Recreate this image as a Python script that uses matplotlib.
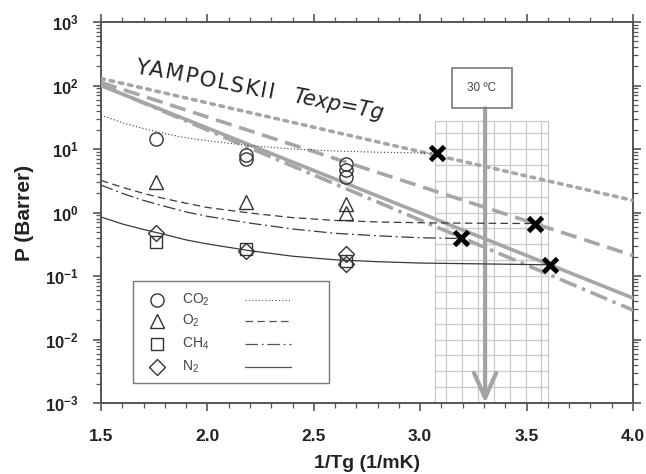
import numpy as np
import matplotlib
matplotlib.use("Agg")
import matplotlib.pyplot as plt
from matplotlib.ticker import MultipleLocator, LogLocator, FixedLocator, FuncFormatter
from matplotlib.patches import Rectangle
from matplotlib.transforms import offset_copy

plt.rcParams['font.family'] = ['Liberation Sans', 'DejaVu Sans']
plt.rcParams['mathtext.fontset'] = 'custom'
plt.rcParams['mathtext.rm'] = 'Liberation Sans'
plt.rcParams['mathtext.bf'] = 'Liberation Sans:bold'
plt.rcParams['mathtext.it'] = 'Liberation Sans:italic'

# ---------------- data ----------------
co2_x = [1.76, 2.18, 2.18, 2.65, 2.65, 2.65]
co2_y = [14.5, 8.0, 7.0, 5.8, 4.6, 3.6]
o2_x = [1.76, 2.18, 2.65, 2.65]
o2_y = [3.0, 1.45, 1.38, 1.0]
ch4_x = [1.76, 2.18, 2.65]
ch4_y = [0.34, 0.27, 0.17]
n2_x = [1.76, 2.18, 2.65, 2.65]
n2_y = [0.48, 0.25, 0.225, 0.155]

# values at 30 C (crosses)
cross_x = [3.08, 3.54, 3.19, 3.61]
cross_y = [8.5, 0.67, 0.39, 0.15]

# Yampolskii Texp = Tg correlations
yamp_x = [1.5, 4.0]
yamp_co2 = [129, 1.55]
yamp_o2 = [112, 0.21]
yamp_ch4 = [102, 0.029]
yamp_n2 = [100, 0.045]

# model curves
fit_co2_x = [1.5, 1.6, 1.7, 1.8, 1.9, 2.0, 2.2, 2.4, 2.6, 2.8, 3.08]
fit_co2_y = [34, 26, 21, 17.5, 15, 13.5, 11.3, 10.0, 9.3, 8.9, 8.6]
fit_o2_x = [1.5, 1.6, 1.7, 1.8, 1.9, 2.0, 2.2, 2.4, 2.6, 2.8, 3.0, 3.2, 3.54]
fit_o2_y = [3.2, 2.5, 2.0, 1.65, 1.4, 1.2, 0.98, 0.83, 0.75, 0.71, 0.69, 0.68, 0.67]
fit_ch4_x = [1.5, 1.6, 1.7, 1.8, 1.9, 2.0, 2.2, 2.4, 2.6, 2.8, 3.0, 3.19]
fit_ch4_y = [2.7, 2.0, 1.55, 1.25, 1.02, 0.87, 0.68, 0.55, 0.47, 0.43, 0.40, 0.39]
fit_n2_x = [1.5, 1.6, 1.7, 1.8, 1.9, 2.0, 2.2, 2.4, 2.6, 2.8, 3.0, 3.3, 3.61]
fit_n2_y = [0.85, 0.66, 0.54, 0.45, 0.37, 0.32, 0.25, 0.205, 0.18, 0.168, 0.16, 0.155, 0.15]

x_ticks = [1.5, 2.0, 2.5, 3.0, 3.5, 4.0]
x_tick_labels = ['1.5', '2.0', '2.5', '3.0', '3.5', '4.0']
y_exponents = [-3, -2, -1, 0, 1, 2, 3]

gases = ['CO$_2$', 'O$_2$', 'CH$_4$', 'N$_2$']

# ---------------- figure ----------------
fig = plt.figure(figsize=(6.46, 4.74), dpi=100)
ax = fig.add_axes([101/646, 1-403/474, 532/646, 381/474])
ax.set_yscale('log')
ax.set_xlim(1.5, 4.0)
ax.set_ylim(1e-3, 1e3)

gray = '#a6a6a6'
dark = '#333333'
thin = '#3a3a3a'

# grid patch (30 C region)
gx0, gx1, gtop = 3.07, 3.60, 28
grid_c = '#c8c8c8'
for gx in [gx0, 3.12, 3.195, 3.27, 3.345, 3.42, 3.495, 3.57, gx1]:
    ax.plot([gx, gx], [1e-3, gtop], color=grid_c, lw=0.9, zorder=1)
for k in range(1, 18):
    gy = 10 ** (-3 + 0.25 * k)
    ax.plot([gx0, gx1], [gy, gy], color=grid_c, lw=0.9, zorder=1)
ax.plot([gx0, gx1], [gtop, gtop], color=grid_c, lw=0.9, zorder=1)

# Yampolskii lines
ax.plot(yamp_x, yamp_co2, color=gray, lw=2.6, ls=(0, (1, 1.6)), dash_capstyle='round', zorder=3)
ax.plot(yamp_x, yamp_o2, color=gray, lw=2.6, ls=(0, (4.5, 2.2)), zorder=3)
ax.plot(yamp_x, yamp_ch4, color=gray, lw=2.6, ls=(0, (5, 1.6, 1, 1.6)), zorder=3)
ax.plot(yamp_x, yamp_n2, color=gray, lw=2.6, ls='-', zorder=3)

# model curves
ax.plot(fit_co2_x, fit_co2_y, color=thin, lw=0.8, ls=(0, (1, 2)), zorder=4)
ax.plot(fit_o2_x, fit_o2_y, color=thin, lw=0.9, ls=(0, (6, 3.5)), zorder=4)
ax.plot(fit_ch4_x, fit_ch4_y, color=thin, lw=0.9, ls=(0, (10, 3, 1.5, 3)), zorder=4)
ax.plot(fit_n2_x, fit_n2_y, color=thin, lw=0.9, ls='-', zorder=4)

# data points
mk = dict(ls='none', mfc='none', mec=dark, mew=1.0, zorder=5)
ax.plot(co2_x, co2_y, marker='o', ms=9.5, **mk)
ax.plot(o2_x, o2_y, marker='^', ms=9.5, **mk)
ax.plot(ch4_x, ch4_y, marker='s', ms=9, **mk)
ax.plot(n2_x, n2_y, marker='D', ms=8.5, **mk)

ax.plot(cross_x, cross_y, ls='none', marker='x', ms=10, mew=3.5, color='black', zorder=6)

# arrow and box for 30 C
ax.annotate('', xy=(3.305, 1e-3), xytext=(3.305, 43.6),
            arrowprops=dict(arrowstyle='->,head_length=1.8,head_width=0.8',
                            color='#a3a3a3', lw=3, shrinkA=0, shrinkB=0), zorder=2)
ax.add_patch(Rectangle((3.15, 43.6), 0.28, 186 - 43.6, fill=False, ec='#777777', lw=1.2, zorder=6))
ax.text(3.29, 90, '30 ºC', ha='center', va='center', fontsize=8.5, color='#444444', zorder=7)

# Yampolskii label (letter-spaced, placed character by character)
angle = -11.0
renderer = fig.canvas.get_renderer()
def spaced_text(x0, y0, s, extra_px, **kw):
    adv = 0.0
    c, sn = np.cos(np.radians(angle)), np.sin(np.radians(angle))
    for ch in s:
        tr = offset_copy(ax.transData, fig=fig, x=adv * c * 72 / fig.dpi,
                         y=adv * sn * 72 / fig.dpi, units='points')
        ax.text(x0, y0, ch, transform=tr, rotation=angle, rotation_mode='anchor',
                ha='left', va='baseline', **kw)
        tmp = fig.text(0, 0, ch, **kw)
        w = tmp.get_window_extent(renderer=renderer).width
        tmp.remove()
        adv += w + extra_px

spaced_text(1.655, 160, 'YAMPOLSKII', 1.4, fontsize=15.5, color='#222222',
            family=['DejaVu Sans'])
ax.text(2.398, 54, 'Texp=Tg', rotation=angle, rotation_mode='anchor', style='italic',
        ha='left', va='baseline', fontsize=15, color='#222222', family=['DejaVu Sans'])

# legend (drawn manually)
T = ax.transAxes
ax.add_patch(Rectangle((0.060, 0.0525), 0.3686, 0.2675, transform=T, fill=False,
                       ec='#777777', lw=1.0, zorder=7))
rows = [0.270, 0.215, 0.155, 0.0945]
markers = [('o', 9.5), ('^', 9.5), ('s', 9), ('D', 8.5)]
styles = [((0, (1, 2)), 0.8), ((0, (6, 3.5)), 0.9), ((0, (10, 3, 1.5, 3)), 0.9), ('-', 0.9)]
for ry, (m, ms), lab, (ls, lw) in zip(rows, markers, gases, styles):
    ax.plot([0.105], [ry], transform=T, marker=m, ms=ms, mfc='none', mec=dark, mew=1.0,
            ls='none', zorder=8, clip_on=False)
    ax.text(0.152, ry, lab, transform=T, ha='left', va='center', fontsize=10,
            color='#444444', zorder=8)
    ax.plot([0.271, 0.357], [ry, ry], transform=T, color='#555555', lw=lw, ls=ls, zorder=8)

# axes styling
for s in ax.spines.values():
    s.set_color('#555555')
    s.set_linewidth(1.4)

ax.xaxis.set_major_locator(FixedLocator(x_ticks))
ax.set_xticklabels(x_tick_labels)
ax.xaxis.set_minor_locator(MultipleLocator(0.1))
ax.yaxis.set_major_locator(LogLocator(base=10, numticks=20))
ax.yaxis.set_minor_locator(LogLocator(base=10, subs=np.arange(2, 10), numticks=20))
ax.yaxis.set_major_formatter(FuncFormatter(lambda v, p: r'$\mathbf{10^{%d}}$' % round(np.log10(v))))
ax.set_yticks([10.0 ** e for e in y_exponents])

ax.tick_params(which='both', direction='out', top=True, right=True, color='#555555')
ax.tick_params(which='major', length=6, width=1.2)
ax.tick_params(which='minor', length=3.5, width=0.9)
ax.tick_params(axis='x', which='major', pad=13, labelsize=12.5, labelcolor='#222222')
ax.tick_params(axis='y', which='major', pad=10, labelsize=12, labelcolor='#222222')
for lbl in ax.get_xticklabels():
    lbl.set_fontweight('bold')

ax.set_xlabel('1/Tg (1/mK)', fontsize=14, fontweight='bold', color='#222222', labelpad=8)
ax.set_ylabel('P (Barrer)', fontsize=15, fontweight='bold', color='#222222', labelpad=8)

fig.savefig('out.png', dpi=100)
